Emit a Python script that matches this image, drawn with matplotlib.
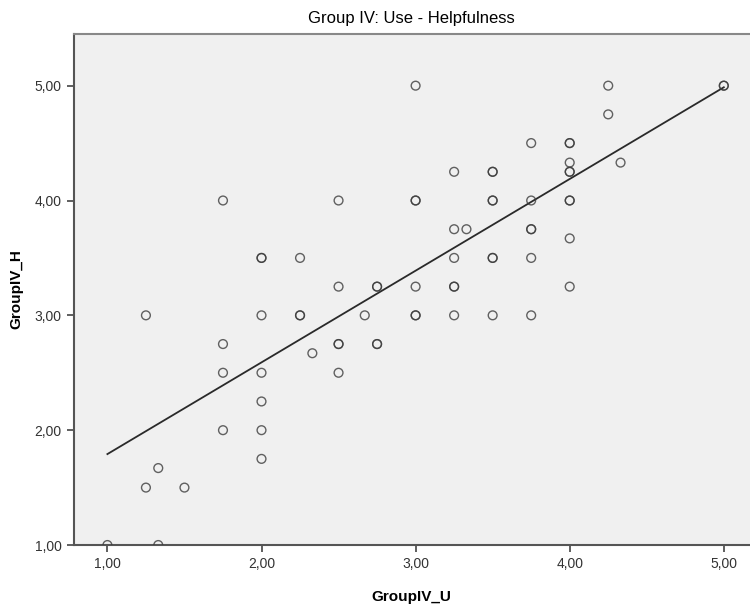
import matplotlib.pyplot as plt
import matplotlib.ticker as mticker
import numpy as np

plt.rcParams['font.family'] = ['Liberation Sans', 'DejaVu Sans']

# GroupIV_U values (duplicates repeated for overlapping, darker markers)
use = [1.00, 1.33, 1.25, 1.50, 1.33, 2.00, 1.75, 2.00, 2.00, 1.75, 2.00, 2.50,
       2.33, 1.75, 2.50, 2.50, 2.75, 2.75,
       1.25, 2.00, 2.25, 2.25, 2.67, 3.00, 3.00, 3.25, 3.50, 3.75,
       2.50, 2.75, 2.75, 3.00, 3.25, 3.25, 4.00,
       2.00, 2.00, 2.25, 3.25, 3.50, 3.50, 3.75,
       4.00, 3.25, 3.33, 3.75, 3.75,
       1.75, 2.50, 3.00, 3.00, 3.50, 3.50, 3.75, 4.00, 4.00,
       3.25, 3.50, 3.50, 4.00, 4.00,
       4.00, 4.33, 3.75, 4.00, 4.00,
       4.25, 3.00, 4.25, 5.00, 5.00]
helpful = [1.00, 1.00, 1.50, 1.50, 1.67, 1.75, 2.00, 2.00, 2.25, 2.50, 2.50, 2.50,
           2.67, 2.75, 2.75, 2.75, 2.75, 2.75,
           3.00, 3.00, 3.00, 3.00, 3.00, 3.00, 3.00, 3.00, 3.00, 3.00,
           3.25, 3.25, 3.25, 3.25, 3.25, 3.25, 3.25,
           3.50, 3.50, 3.50, 3.50, 3.50, 3.50, 3.50,
           3.67, 3.75, 3.75, 3.75, 3.75,
           4.00, 4.00, 4.00, 4.00, 4.00, 4.00, 4.00, 4.00, 4.00,
           4.25, 4.25, 4.25, 4.25, 4.25,
           4.33, 4.33, 4.50, 4.50, 4.50,
           4.75, 5.00, 5.00, 5.00, 5.00]

x = np.array(use)
y = np.array(helpful)
slope, intercept = np.polyfit(x, y, 1)

fig = plt.figure(figsize=(7.5, 6.08), dpi=100)
ax = fig.add_axes([0.098, 0.1036, 0.902, 0.8405])
ax.set_facecolor('#f0f0f0')

ax.scatter(x, y, s=40, facecolors='none', edgecolors='#3c3c3c', linewidths=1.0, alpha=0.8, zorder=3)
xs = np.array([x.min(), x.max()])
ax.plot(xs, intercept + slope * xs, color='#2a2a2a', lw=1.3, zorder=2)

ax.set_xlim(0.78, 5.17)
ax.set_ylim(1.0, 5.45)
ticks = [1, 2, 3, 4, 5]
ax.set_xticks(ticks)
ax.set_yticks(ticks)
fmt = mticker.FuncFormatter(lambda v, p: f'{v:.2f}'.replace('.', ','))
ax.xaxis.set_major_formatter(fmt)
ax.yaxis.set_major_formatter(fmt)
ax.tick_params(direction='out', length=5, width=1.2, color='#444444', labelsize=10, labelcolor='#333333')

for s in ['left', 'bottom']:
    ax.spines[s].set_color('#555555')
    ax.spines[s].set_linewidth(1.5)
ax.spines['top'].set_color('#888888')
ax.spines['top'].set_linewidth(1.5)
ax.spines['right'].set_visible(False)

ax.set_title('Group IV: Use - Helpfulness', fontsize=12, pad=8)
ax.set_xlabel('GroupIV_U', fontsize=11, fontweight='bold', labelpad=14)
ax.set_ylabel('GroupIV_H', fontsize=11, fontweight='bold', labelpad=8)

fig.savefig('out.png', dpi=100)
